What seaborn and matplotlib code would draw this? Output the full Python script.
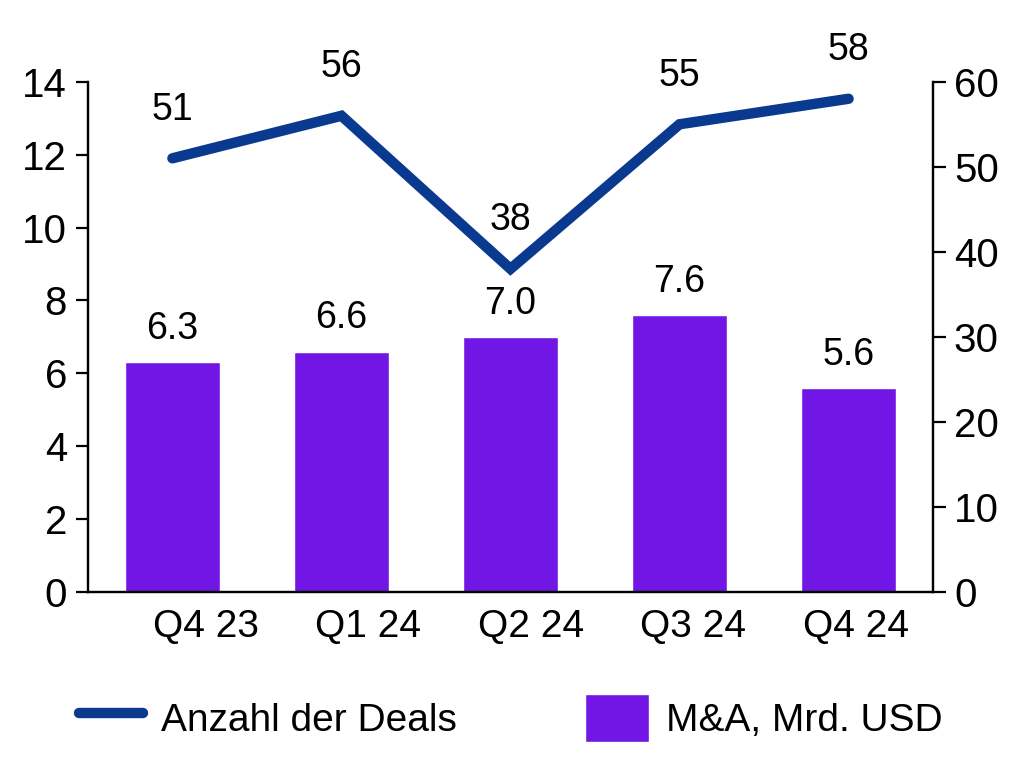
import numpy as np
import matplotlib
matplotlib.use("Agg")
import matplotlib.pyplot as plt
import seaborn as sns
from matplotlib.lines import Line2D
from matplotlib.patches import Patch

# data
quarters = ["Q4 23", "Q1 24", "Q2 24", "Q3 24", "Q4 24"]
ma_volume = [6.3, 6.6, 7.0, 7.6, 5.6]      # M&A, Mrd. USD (left axis)
deal_count = [51, 56, 38, 55, 58]          # Anzahl der Deals (right axis)

bar_color = "#7216E6"
line_color = "#0A3A8F"

sns.set_style("white")
plt.rcParams["font.family"] = ["Liberation Sans", "DejaVu Sans"]
plt.rcParams["text.color"] = "black"
plt.rcParams["xtick.color"] = "black"
plt.rcParams["ytick.color"] = "black"

fig = plt.figure(figsize=(10.22, 7.64), dpi=100)
ax = fig.add_axes([0.086, 0.225, 0.827, 0.668])
ax2 = ax.twinx()

pos = np.arange(len(quarters))

# bars
sns.barplot(x=pos, y=ma_volume, color=bar_color, width=0.56, saturation=1,
            native_scale=True, ax=ax)
for x, v in zip(pos, ma_volume):
    ax.annotate(f"{v:.1f}", (x, v), xytext=(0, 11), textcoords="offset points",
                ha="center", va="bottom", fontsize=27)

# line
sns.lineplot(x=pos, y=deal_count, color=line_color, linewidth=7.5, sort=False,
             ax=ax2)
ax2.lines[0].set_solid_capstyle("round")
ax2.lines[0].set_solid_joinstyle("miter")
for x, v in zip(pos, deal_count):
    ax2.annotate(str(v), (x, v), xytext=(0, 22), textcoords="offset points",
                 ha="center", va="bottom", fontsize=27)

ax.set_xlim(-0.5, 4.5)
ax.set_ylim(0, 14)
ax.set_yticks(range(0, 15, 2))
ax2.set_ylim(0, 60)
ax2.set_yticks(range(0, 61, 10))

# the category labels sit a bit to the right of the bars in the original
ax.set_xticks(pos * 0.962 + 0.196)
ax.set_xticklabels(quarters)

for a in (ax, ax2):
    a.set_xlabel("")
    a.set_ylabel("")
    a.spines["top"].set_visible(False)
    for s in ("left", "right", "bottom"):
        a.spines[s].set_color("black")
        a.spines[s].set_linewidth(1.6)
    a.tick_params(axis="y", labelsize=29, length=9, width=1.6, color="black",
                  pad=6)
ax.tick_params(axis="x", labelsize=28, length=0, pad=12)
ax2.grid(False)
ax.grid(False)

handles = [Line2D([0], [0], color=line_color, linewidth=7.5,
                  solid_capstyle="round"),
           Patch(facecolor=bar_color)]
fig.legend(handles, ["Anzahl der Deals", "M&A, Mrd. USD"], loc="center",
           bbox_to_anchor=(0.5, 0.06), ncol=2, frameon=False, fontsize=28,
           handlelength=1.65, handleheight=1.5, handletextpad=0.45,
           columnspacing=3.3)

fig.savefig("out.png", dpi=100)
